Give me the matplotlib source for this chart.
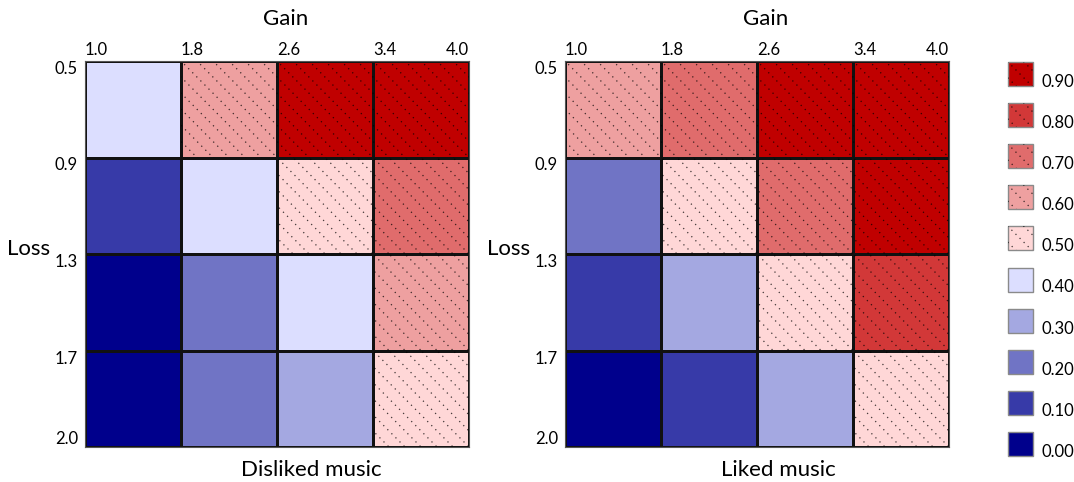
import matplotlib.pyplot as plt
import numpy as np
from matplotlib.colors import ListedColormap, BoundaryNorm
from matplotlib.patches import Rectangle

plt.rcParams['font.family'] = ['Lato', 'DejaVu Sans']

gain_labels = ["1.0", "1.8", "2.6", "3.4", "4.0"]
loss_labels = ["0.5", "0.9", "1.3", "1.7", "2.0"]

disliked = np.array([
    [0.4, 0.6, 0.9, 0.9],
    [0.1, 0.4, 0.5, 0.7],
    [0.0, 0.2, 0.4, 0.6],
    [0.0, 0.2, 0.3, 0.5],
])
liked = np.array([
    [0.6, 0.7, 0.9, 0.9],
    [0.2, 0.5, 0.7, 0.9],
    [0.1, 0.3, 0.5, 0.8],
    [0.0, 0.1, 0.3, 0.5],
])

levels = [0.0, 0.1, 0.2, 0.3, 0.4, 0.5, 0.6, 0.7, 0.8, 0.9]
level_colors = ["#00008c", "#373aa8", "#7074c5", "#a4a8e1", "#dcdeff",
                "#ffd7d7", "#eea0a0", "#e06c6c", "#d23838", "#c00000"]
cmap = ListedColormap(level_colors)
norm = BoundaryNorm(np.arange(-0.05, 1.0, 0.1), cmap.N)

fig = plt.figure(figsize=(10.74, 4.82), dpi=100)


def dotted_hatch(ax, x0, y0, w, h, transform, step):
    clip = Rectangle((x0, y0), w, h, transform=transform, facecolor='none', edgecolor='none')
    ax.add_patch(clip)
    m = max(w, h)
    n = int(np.ceil(m / step)) + 1
    for k in range(-n, n + 1):
        c = k * step
        ln, = ax.plot([x0 + c - m, x0 + c + 2 * m], [y0 - m, y0 + 2 * m],
                      transform=transform, color='black', alpha=0.75, lw=0.9,
                      linestyle=(0, (1.0, 3.6)), solid_capstyle='butt')
        ln.set_clip_path(clip)


def heatmap(rect, vals, title):
    ax = fig.add_axes(rect)
    ax.pcolormesh(np.arange(5), np.arange(5), vals, cmap=cmap, norm=norm,
                  edgecolors='#111111', linewidth=0.85)
    ax.set_xlim(0, 4)
    ax.set_ylim(4, 0)
    for r in range(vals.shape[0]):
        for c in range(vals.shape[1]):
            if vals[r, c] >= 0.5:
                dotted_hatch(ax, c, r, 1, 1, ax.transData, 1 / 6)
    ax.xaxis.tick_top()
    ax.set_xticks(np.arange(5), gain_labels)
    ax.set_yticks(np.arange(5), loss_labels)
    ax.tick_params(length=0, labelsize=12)
    ax.tick_params(axis='x', pad=2)
    ax.tick_params(axis='y', pad=5)
    for i, lab in enumerate(ax.get_xticklabels()):
        lab.set_ha('right' if i == 4 else 'left')
    for i, lab in enumerate(ax.get_yticklabels()):
        lab.set_va('bottom' if i == 4 else 'top')
    for s in ax.spines.values():
        s.set_color('#555555')
        s.set_linewidth(0.8)
    ax.text(178 / 384, 1 + 42 / 386, "Gain", transform=ax.transAxes,
            ha='left', va='center', fontsize=16)
    ax.text(-0.148, 0.513, "Loss", transform=ax.transAxes,
            ha='center', va='center', fontsize=16)
    ax.text(156 / 384, -23 / 386, title, transform=ax.transAxes,
            ha='left', va='center', fontsize=16)
    return ax


heatmap([85 / 1074, 35 / 482, 384 / 1074, 386 / 482], disliked, "Disliked music")
heatmap([565 / 1074, 35 / 482, 384 / 1074, 386 / 482], liked, "Liked music")

# legend drawn in pixel coordinates
lax = fig.add_axes([0, 0, 1, 1])
lax.set_xlim(0, 1074)
lax.set_ylim(482, 0)
lax.axis('off')
for k, lv in enumerate(levels[::-1]):
    top = 62 + k * 41.1
    col = cmap(norm(lv))
    lax.add_patch(Rectangle((1008, top), 25, 24, facecolor=col, edgecolor='#8a8a8a', lw=1.0))
    if lv >= 0.5:
        dotted_hatch(lax, 1008, top, 25, 24, lax.transData, 16)
    lax.text(1041, top + 20, f"{lv:.2f}", ha='left', va='center', fontsize=12)

fig.savefig("out.png", dpi=100)
